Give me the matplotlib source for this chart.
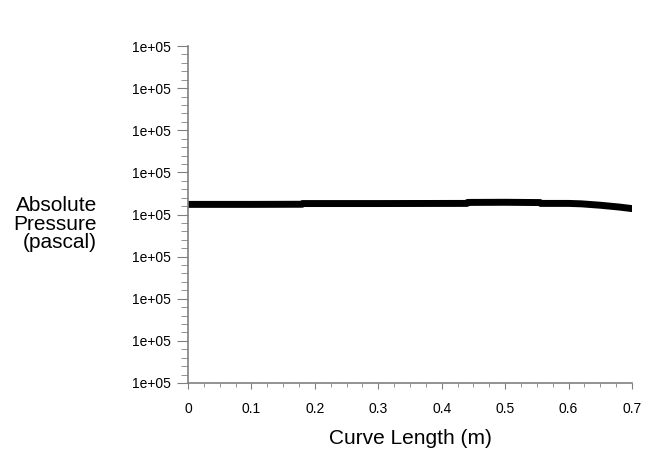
import numpy as np
import matplotlib.pyplot as plt
from matplotlib.ticker import MultipleLocator, AutoMinorLocator, FormatStrFormatter

# curve length (m) and absolute pressure (Pa)
curve_length = [0.0, 0.10, 0.18, 0.181, 0.30, 0.44, 0.441, 0.50, 0.555, 0.556, 0.60, 0.62, 0.65, 0.68, 0.70]
pressure = [101227.2, 101227.2, 101227.3, 101227.8, 101227.8, 101227.9, 101228.6, 101228.7, 101228.5, 101227.9, 101227.9, 101227.6, 101226.6, 101225.3, 101224.2]

y_min, y_max, y_step = 101100, 101340, 30
x_ticks = [0, 0.1, 0.2, 0.3, 0.4, 0.5, 0.6, 0.7]

plt.rcParams['font.family'] = ['Liberation Sans', 'DejaVu Sans']

fig = plt.figure(figsize=(6.52, 4.49), dpi=100)
ax = fig.add_axes([188/652, 1-383/449, (632-188)/652, (383-46)/449])

ax.plot(curve_length, pressure, color="black", linewidth=5, solid_capstyle="round")

ax.set_xlim(0, 0.7)
ax.set_ylim(y_min, y_max)
ax.set_xticks(x_ticks)
ax.set_xticklabels([f"{t:g}" for t in x_ticks])
ax.xaxis.set_minor_locator(AutoMinorLocator(4))
ax.yaxis.set_major_locator(MultipleLocator(y_step))
ax.yaxis.set_minor_locator(AutoMinorLocator(5))
ax.yaxis.set_major_formatter(FormatStrFormatter("%.0e"))

for s in ["top", "right"]:
    ax.spines[s].set_visible(False)
for s in ["left", "bottom"]:
    ax.spines[s].set_color("#808080")
    ax.spines[s].set_linewidth(1.2)

ax.tick_params(axis="y", which="major", length=8, color="#808080", labelsize=10, pad=4)
ax.tick_params(axis="y", which="minor", length=5, color="#808080")
ax.tick_params(axis="x", which="major", length=4, color="#808080", labelsize=10, pad=10)
ax.tick_params(axis="x", which="minor", length=3, color="#808080")

ax.set_xlabel("Curve Length (m)", fontsize=15, labelpad=9)
fig.text(97/652, 1-224/449, "Absolute\nPressure\n(pascal)", fontsize=15,
         ha="right", va="center", multialignment="right", linespacing=0.95)

fig.savefig("out.png", dpi=100)
